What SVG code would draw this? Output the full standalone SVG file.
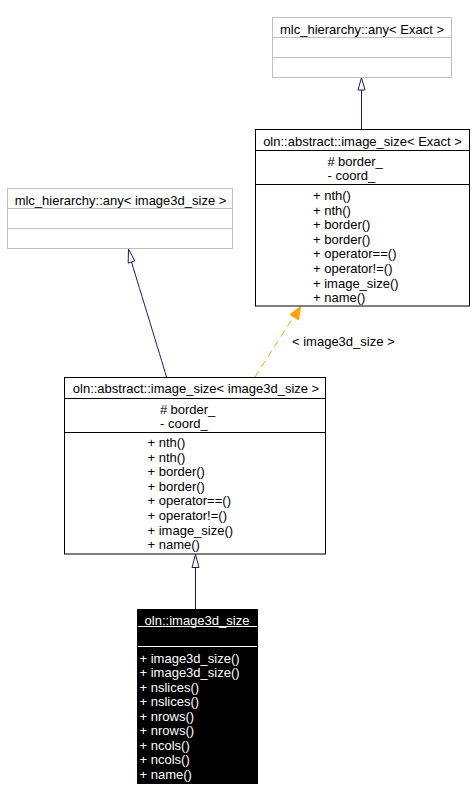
<svg xmlns="http://www.w3.org/2000/svg" width="473" height="801" viewBox="0 0 473 801">
<style>
text{font-family:"Liberation Sans",Arial,sans-serif;font-size:13px;fill:#000}
.c{text-anchor:middle}
.w{fill:#fff}
.gray{fill:#fff;stroke:#bfbfbf;stroke-width:1}
.gl{stroke:#bfbfbf;stroke-width:1}
.box{fill:#fff;stroke:#000;stroke-width:1}
.bl{stroke:#000;stroke-width:1}
.dark{fill:#000;stroke:#000;stroke-width:1}
.wl{stroke:#fff;stroke-width:1}
.inh{fill:none;stroke:#191970;stroke-width:1}
.head{fill:#fff;stroke:#191970;stroke-width:1}
.tmpl{fill:none;stroke:#ffa500;stroke-width:1;stroke-dasharray:7,5}
.thead{fill:#ffa500;stroke:#ffa500;stroke-width:1}
</style>
<rect width="473" height="801" fill="#fff"/>
<g id="connectors">
  <line class="inh" x1="361.5" y1="129.5" x2="361.5" y2="90"/>
  <polygon class="head" points="361.5,77.5 358,90 365,90"/>
  <path class="inh" d="M166.5,377 C160,355 140,290 131.5,262"/>
  <polygon class="head" points="128.5,249 134.8,260.9 128.2,263.1"/>
  <line class="inh" x1="195.5" y1="609" x2="195.5" y2="567"/>
  <polygon class="head" points="195.5,554.5 192,567.5 199,567.5"/>
  <line class="tmpl" x1="255" y1="377" x2="294" y2="316"/>
  <polygon class="thead" points="300.5,306.5 298.5,320 290,314.5"/>
  <text x="292" y="346">&lt; image3d_size &gt;</text>
</g>
<g id="any_exact">
  <rect class="gray" x="272.5" y="17.5" width="179" height="60"/>
  <line class="gl" x1="272.5" y1="37.5" x2="451.5" y2="37.5"/>
  <line class="gl" x1="272.5" y1="57.5" x2="451.5" y2="57.5"/>
  <text class="c" x="362" y="33.5">mlc_hierarchy::any&lt; Exact &gt;</text>
</g>
<g id="image_size_exact">
  <rect class="box" x="255.5" y="129.5" width="214" height="176.5"/>
  <line class="bl" x1="255.5" y1="150.5" x2="469.5" y2="150.5"/>
  <line class="bl" x1="255.5" y1="184.5" x2="469.5" y2="184.5"/>
  <text class="c" x="362.5" y="145.5">oln::abstract::image_size&lt; Exact &gt;</text>
  <text x="327.5" y="165.5">#</text>
  <text x="338" y="165.5">border_</text>
  <text x="327.5" y="180">-  coord_</text>
  <text x="313" y="200">+ nth()</text>
  <text x="313" y="214.6">+ nth()</text>
  <text x="313" y="229.2">+ border()</text>
  <text x="313" y="243.8">+ border()</text>
  <text x="313" y="258.4">+ operator==()</text>
  <text x="313" y="273">+ operator!=()</text>
  <text x="313" y="287.6">+ image_size()</text>
  <text x="313" y="302.2">+ name()</text>
</g>
<g id="any_image3d_size">
  <rect class="gray" x="7.5" y="188.5" width="225" height="60"/>
  <line class="gl" x1="7.5" y1="208.5" x2="232.5" y2="208.5"/>
  <line class="gl" x1="7.5" y1="228.5" x2="232.5" y2="228.5"/>
  <text class="c" x="120.5" y="205">mlc_hierarchy::any&lt; image3d_size &gt;</text>
</g>
<g id="image_size_image3d_size">
  <rect class="box" x="64.5" y="377.5" width="261" height="176.5"/>
  <line class="bl" x1="64.5" y1="398.5" x2="325.5" y2="398.5"/>
  <line class="bl" x1="64.5" y1="432.5" x2="325.5" y2="432.5"/>
  <text class="c" x="196" y="392.5">oln::abstract::image_size&lt; image3d_size &gt;</text>
  <text x="160" y="413.5">#</text>
  <text x="170.5" y="413.5">border_</text>
  <text x="160" y="428">-  coord_</text>
  <text x="147.5" y="447">+ nth()</text>
  <text x="147.5" y="461.6">+ nth()</text>
  <text x="147.5" y="476.2">+ border()</text>
  <text x="147.5" y="490.8">+ border()</text>
  <text x="147.5" y="505.4">+ operator==()</text>
  <text x="147.5" y="520">+ operator!=()</text>
  <text x="147.5" y="534.6">+ image_size()</text>
  <text x="147.5" y="549.2">+ name()</text>
</g>
<g id="image3d_size">
  <rect class="dark" x="137.5" y="609.5" width="120" height="174"/>
  <line class="wl" x1="138" y1="626.5" x2="257" y2="626.5"/>
  <line class="wl" x1="138" y1="646.5" x2="257" y2="646.5"/>
  <text class="c w" x="197" y="624.5">oln::image3d_size</text>
  <text class="w" x="139.5" y="662.5">+ image3d_size()</text>
  <text class="w" x="139.5" y="677">+ image3d_size()</text>
  <text class="w" x="139.5" y="691.5">+ nslices()</text>
  <text class="w" x="139.5" y="706">+ nslices()</text>
  <text class="w" x="139.5" y="720.5">+ nrows()</text>
  <text class="w" x="139.5" y="735">+ nrows()</text>
  <text class="w" x="139.5" y="749.5">+ ncols()</text>
  <text class="w" x="139.5" y="764">+ ncols()</text>
  <text class="w" x="139.5" y="778.5">+ name()</text>
</g>
</svg>
